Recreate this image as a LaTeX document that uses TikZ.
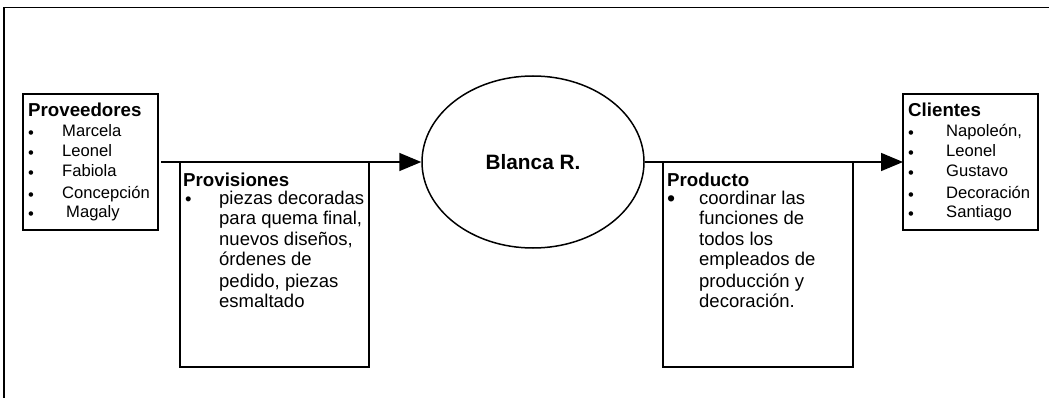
\documentclass[tikz,border=0pt]{standalone}
\usepackage{fontspec}
\setmainfont{Liberation Sans}
\usetikzlibrary{shapes.geometric,arrows.meta}

\newcommand{\bul}[1]{\makebox[#1][l]{\raisebox{-1.2pt}{\textbullet}}}
\newcommand{\bigbul}[1]{\makebox[#1][l]{\raisebox{-2.6pt}{\scalebox{1.25}{\textbullet}}}}

\begin{document}
\begin{tikzpicture}[x=1pt,y=-1pt,
		box/.style={draw, line width=1.6pt, inner sep=0pt, outer sep=0pt, anchor=north west},
		txt/.style={anchor=base west, inner sep=0pt, align=left},
		side/.style={txt, font=\fontsize{16.6}{20}\selectfont},
		mid/.style={txt, font=\fontsize{18.5}{20.5}\selectfont},
		flow/.style={line width=1.6pt, -{Triangle[length=22pt,width=18pt]}}]

	\useasboundingbox (0,0) rectangle (1049,398);
	% outer frame
	\draw[line width=1.3pt] (4,398) -- (4,7.5) -- (1049,7.5);

	% boxes
	\node[box, minimum width=135pt, minimum height=136pt] (prov) at (23,94) {};
	\node[box, minimum width=189pt, minimum height=205pt] (provis) at (180,162) {};
	\node[box, minimum width=190pt, minimum height=205pt] (prod) at (663,162) {};
	\node[box, minimum width=135pt, minimum height=136pt] (cli) at (903,94) {};
	\node[draw, ellipse, line width=1.5pt, inner sep=0pt, minimum width=222pt, minimum height=172pt,
		font=\fontsize{20.8}{24}\selectfont\bfseries] (blanca) at (533,162) {Blanca R.};

	% arrows
	\draw[flow, shorten <=3pt] (prov) -- (blanca);
	\draw[flow] (blanca) -- (cli);

	% texts (placed at the baseline of their last line)
	\node[side] (provtxt) at (28,218) {{\fontsize{18.7}{20}\selectfont\bfseries Proveedores}\\
		\bul{34pt}Marcela\\ \bul{34pt}Leonel\\ \bul{34pt}Fabiola\\[2pt]
		\bul{34pt}Concepción\\[-1pt] \bul{38pt}Magaly};
	\node[mid] (provistxt) at (183,307) {{\fontsize{18.7}{20}\selectfont\bfseries Provisiones}\\[-3pt]
		\hspace*{2pt}\bul{34pt}piezas decoradas\\
		\hspace*{36pt}para quema final,\\
		\hspace*{36pt}nuevos diseños,\\
		\hspace*{36pt}órdenes de\\[1.5pt]
		\hspace*{36pt}pedido, piezas\\[-1pt]
		\hspace*{36pt}esmaltado};
	\node[mid] (prodtxt) at (667,307) {{\fontsize{18.7}{20}\selectfont\bfseries Producto}\\[-3pt]
		\bigbul{32pt}coordinar las\\
		\hspace*{32pt}funciones de\\
		\hspace*{32pt}todos los\\
		\hspace*{32pt}empleados de\\[1.5pt]
		\hspace*{32pt}producción y\\[-1pt]
		\hspace*{32pt}decoración.};
	\node[side] (clitxt) at (908,218) {{\fontsize{18.7}{20}\selectfont\bfseries Clientes}\\
		\bul{38pt}Napoleón,\\ \bul{38pt}Leonel\\ \bul{38pt}Gustavo\\[2pt]
		\bul{38pt}Decoración\\[-1pt] \bul{38pt}Santiago};
\end{tikzpicture}
\end{document}
